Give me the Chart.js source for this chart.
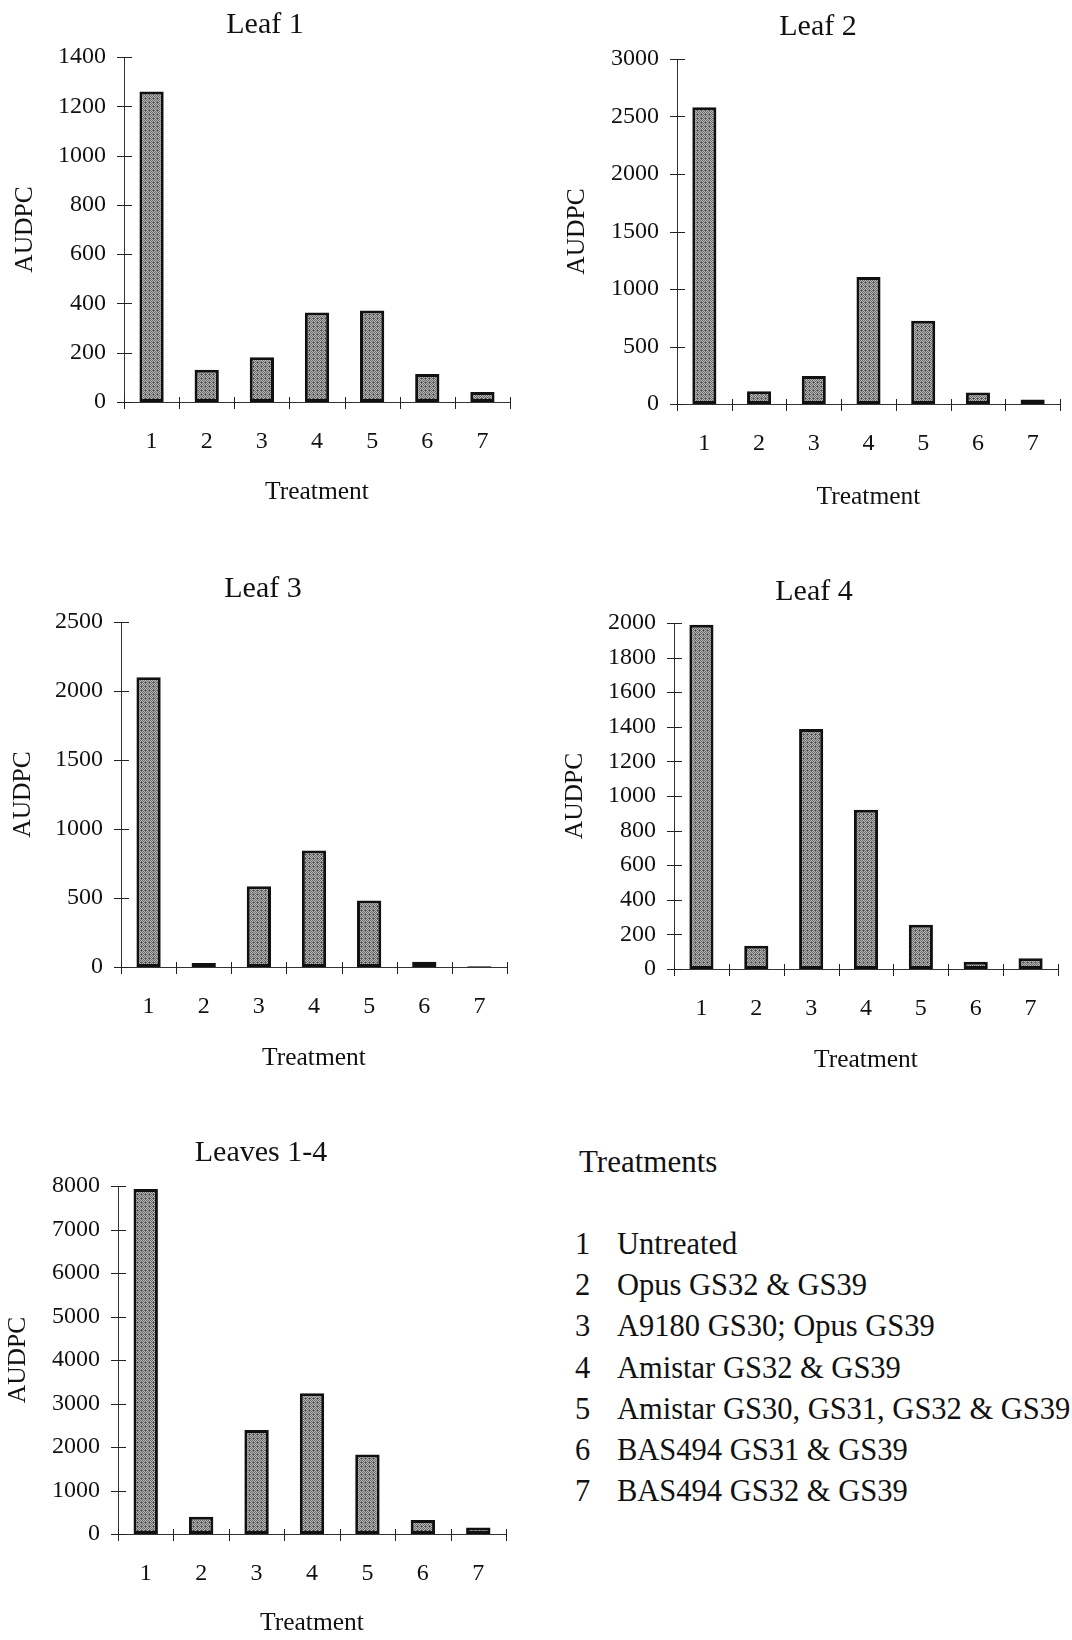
<!DOCTYPE html>
<html>
<head>
<meta charset="utf-8">
<title>AUDPC by treatment</title>
<script src="https://cdn.jsdelivr.net/npm/chart.js@4.4.1/dist/chart.umd.min.js"></script>
<style>
  html, body { margin: 0; padding: 0; background: #fff; }
  #page { position: relative; width: 1072px; height: 1640px; overflow: hidden; background: #fff; }
  #page canvas { position: absolute; }
  .key { position: absolute; font-family: 'Liberation Serif', 'Times New Roman', serif; color: #111; white-space: nowrap; }
  #keyTitle { left: 579px; top: 1142px; font-size: 31px; line-height: 40px; }
  #keyRows { left: 575px; top: 1224px; font-size: 30.5px; line-height: 41.2px; }
  #keyRows .num { display: inline-block; width: 42px; }
</style>
</head>
<body>
<div id="page">
  <div class="key" id="keyTitle">Treatments</div>
  <div class="key" id="keyRows"></div>
</div>
<script>
// Treatment numbers on the x axis
const treatments = ['1', '2', '3', '4', '5', '6', '7'];

// Treatment descriptions for the key
const treatmentNames = [
  'Untreated',
  'Opus GS32 & GS39',
  'A9180 GS30; Opus GS39',
  'Amistar GS32 & GS39',
  'Amistar GS30, GS31, GS32 & GS39',
  'BAS494 GS31 & GS39',
  'BAS494 GS32 & GS39'
];

// AUDPC per treatment
const leaf1 = [1260, 131, 182, 363, 371, 114, 41];
const leaf2 = [2580, 110, 243, 1104, 725, 101, 40];
const leaf3 = [2100, 29, 585, 845, 481, 38, 5];
const leaf4 = [1990, 135, 1387, 921, 256, 42, 62];
const leaves1to4 = [7930, 398, 2390, 3235, 1830, 320, 150];

// y-axis tick values
const leaf1Ticks = [0, 200, 400, 600, 800, 1000, 1200, 1400];
const leaf2Ticks = [0, 500, 1000, 1500, 2000, 2500, 3000];
const leaf3Ticks = [0, 500, 1000, 1500, 2000, 2500];
const leaf4Ticks = [0, 200, 400, 600, 800, 1000, 1200, 1400, 1600, 1800, 2000];
const leaves1to4Ticks = [0, 1000, 2000, 3000, 4000, 5000, 6000, 7000, 8000];

const FONT = "'Liberation Serif', 'Times New Roman', serif";
const INK = '#111';
const TITLE_SIZE = 30;
const AXIS_TITLE_SIZE = 25.5;
const TICK_SIZE = 24;
Chart.defaults.font.family = FONT;
Chart.defaults.color = INK;

// key
const rows = document.getElementById('keyRows');
treatmentNames.forEach((name, i) => {
  const row = document.createElement('div');
  const num = document.createElement('span');
  num.className = 'num';
  num.textContent = treatments[i];
  row.appendChild(num);
  row.appendChild(document.createTextNode(name));
  rows.appendChild(row);
});

// halftone-like grey fill for the bars
function barFill(ctx) {
  const c = document.createElement('canvas');
  c.width = 4; c.height = 4;
  const g = c.getContext('2d');
  g.fillStyle = '#b4b4b4';
  g.fillRect(0, 0, 4, 4);
  g.fillStyle = '#6c6c6c';
  for (let yy = 0; yy < 4; yy++) {
    for (let xx = 0; xx < 4; xx++) {
      if ((xx + yy) % 2 === 0) g.fillRect(xx, yy, 1, 1);
    }
  }
  g.fillStyle = '#444';
  g.fillRect(1, 2, 1, 1);
  return ctx.createPattern(c, 'repeat');
}

// tick marks that cross the axes
const crossTicks = {
  id: 'crossTicks',
  afterDatasetsDraw(chart) {
    const { ctx, chartArea: a, scales: { x, y } } = chart;
    ctx.save();
    ctx.strokeStyle = '#222';
    ctx.lineWidth = 1;
    ctx.beginPath();
    y.ticks.forEach(t => {
      const py = Math.round(y.getPixelForValue(t.value)) + 0.5;
      ctx.moveTo(a.left - 7, py);
      ctx.lineTo(a.left + 8, py);
    });
    for (let i = 0; i <= x.ticks.length; i++) {
      const px = Math.round(x.getPixelForValue(i - 0.5)) + 0.5;
      ctx.moveTo(px, a.bottom - 5);
      ctx.lineTo(px, a.bottom + 7);
    }
    ctx.stroke();
    ctx.restore();
  }
};

// one panel: canvas box (L,T,W,H), plot area (aL,aR,aT,aB), text centres
function panel(title, values, tickVals, box) {
  const canvas = document.createElement('canvas');
  canvas.width = box.W;
  canvas.height = box.H;
  canvas.style.left = box.L + 'px';
  canvas.style.top = box.T + 'px';
  document.getElementById('page').appendChild(canvas);
  const ctx = canvas.getContext('2d');

  const titleLH = TITLE_SIZE * 1.2;
  const axisLH = AXIS_TITLE_SIZE * 1.2;
  const tickLH = TICK_SIZE * 1.2;
  const padRight = box.L + box.W - box.aR;
  // left padding so the chart title sits centred at titleX
  const padLeft = 2 * box.titleX - box.aR - box.L;
  const yWidth = box.aL - box.L - padLeft;
  const titleTop = box.titleY - box.T - titleLH / 2;
  const titleBottom = box.aT - box.T - titleTop - titleLH;
  const xHeight = box.T + box.H - box.aB;
  const yTitlePad = box.yTitleX - box.L - padLeft - axisLH / 2;
  const xTitlePad = box.T + box.H - box.xTitleY - axisLH / 2;
  const xTickPad = box.xLabelY - box.aB - tickLH / 2;

  return new Chart(ctx, {
    type: 'bar',
    data: {
      labels: treatments,
      datasets: [{
        data: values,
        backgroundColor: barFill(ctx),
        borderColor: INK,
        borderWidth: 3,
        borderSkipped: false,
        barPercentage: 0.44,
        categoryPercentage: 1
      }]
    },
    options: {
      responsive: false,
      animation: false,
      devicePixelRatio: 1,
      layout: { padding: { left: padLeft, right: padRight, top: 0, bottom: 0 } },
      plugins: {
        legend: { display: false },
        tooltip: { enabled: false },
        title: {
          display: true,
          text: title,
          color: INK,
          font: { size: TITLE_SIZE, weight: 'normal', family: FONT },
          padding: { top: titleTop, bottom: titleBottom }
        }
      },
      scales: {
        x: {
          grid: { display: false, drawTicks: false },
          border: { display: true, color: '#333', width: 1 },
          ticks: {
            color: INK,
            padding: xTickPad,
            font: { size: TICK_SIZE, family: FONT },
            maxRotation: 0,
            autoSkip: false
          },
          title: {
            display: true,
            text: 'Treatment',
            color: INK,
            font: { size: AXIS_TITLE_SIZE, family: FONT },
            padding: { top: 0, bottom: xTitlePad }
          },
          afterFit(s) { s.height = xHeight; }
        },
        y: {
          min: tickVals[0],
          max: tickVals[tickVals.length - 1],
          grid: { display: false, drawTicks: false },
          border: { display: true, color: '#333', width: 1 },
          ticks: {
            color: INK,
            padding: 18,
            font: { size: TICK_SIZE, family: FONT },
            callback: v => String(v)
          },
          afterBuildTicks(s) { s.ticks = tickVals.map(v => ({ value: v })); },
          title: {
            display: true,
            text: 'AUDPC',
            color: INK,
            font: { size: AXIS_TITLE_SIZE, family: FONT },
            padding: { top: yTitlePad, bottom: 0 }
          },
          afterFit(s) { s.width = yWidth; }
        }
      }
    },
    plugins: [crossTicks]
  });
}

panel('Leaf 1', leaf1, leaf1Ticks, {
  L: 0, T: 0, W: 522, H: 520,
  aL: 124, aR: 510, aT: 57, aB: 402,
  titleX: 265, titleY: 25, yTitleX: 25, xTitleY: 492, xLabelY: 442
});
panel('Leaf 2', leaf2, leaf2Ticks, {
  L: 560, T: 0, W: 512, H: 520,
  aL: 677, aR: 1060, aT: 59, aB: 404,
  titleX: 818, titleY: 27, yTitleX: 577, xTitleY: 497, xLabelY: 444
});
panel('Leaf 3', leaf3, leaf3Ticks, {
  L: 0, T: 560, W: 519, H: 520,
  aL: 121, aR: 507, aT: 622, aB: 967,
  titleX: 263, titleY: 589, yTitleX: 23, xTitleY: 1058, xLabelY: 1007
});
panel('Leaf 4', leaf4, leaf4Ticks, {
  L: 554, T: 560, W: 518, H: 520,
  aL: 674, aR: 1058, aT: 623, aB: 969,
  titleX: 814, titleY: 592, yTitleX: 575, xTitleY: 1060, xLabelY: 1009
});
panel('Leaves 1-4', leaves1to4, leaves1to4Ticks, {
  L: 0, T: 1120, W: 518, H: 520,
  aL: 118, aR: 506, aT: 1186, aB: 1534,
  titleX: 261, titleY: 1153, yTitleX: 18, xTitleY: 1623, xLabelY: 1574
});
</script>
</body>
</html>
